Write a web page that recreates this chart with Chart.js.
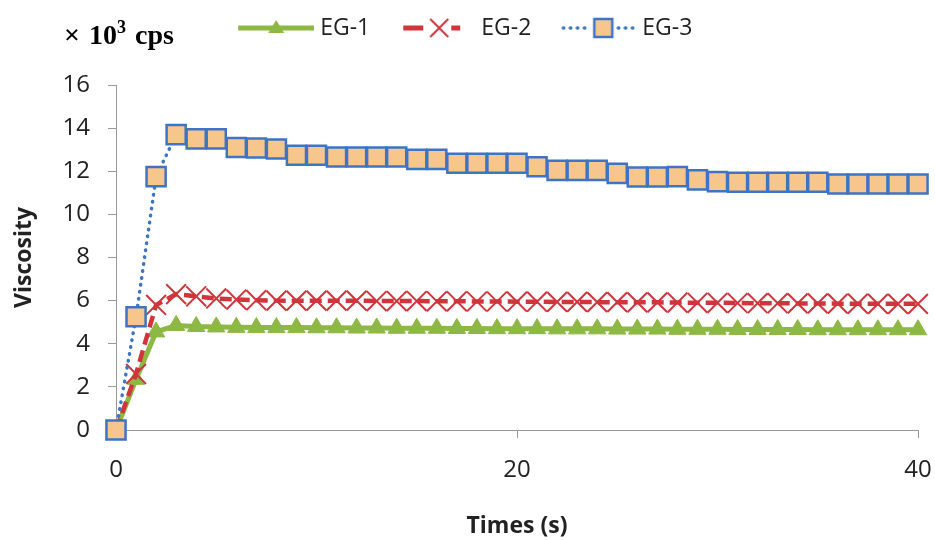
<!DOCTYPE html>
<html>
<head>
    <meta charset="utf-8">
    <title>Viscosity vs time</title>
    <script src="https://cdn.jsdelivr.net/npm/chart.js"></script>
    <style>
        html, body {
            margin: 0;
            padding: 0;
            background: #fff;
        }
        #wrap {
            position: relative;
            width: 935px;
            height: 540px;
        }
        #unit {
            position: absolute;
            left: 64px;
            top: 21px;
            font-family: "Liberation Serif", "DejaVu Serif", serif;
            font-weight: bold;
            font-size: 28px;
            line-height: 28px;
            color: #000;
            white-space: nowrap;
            word-spacing: 2px;
        }
        #unit sup {
            font-size: 18px;
            position: relative;
            top: -11px;
            vertical-align: baseline;
            line-height: 0;
        }
    </style>
</head>
<body>
    <div id="wrap">
        <canvas id="viscChart" width="935" height="540"></canvas>
        <div id="unit">&times; 10<sup>3</sup> cps</div>
    </div>

    <script>
      // one reading per second
      const times = [0, 1, 2, 3, 4, 5, 6, 7, 8, 9, 10, 11, 12, 13, 14, 15, 16, 17, 18, 19, 20,
                     21, 22, 23, 24, 25, 26, 27, 28, 29, 30, 31, 32, 33, 34, 35, 36, 37, 38, 39, 40];

      const eg1 = [0, 2.35, 4.55, 4.85, 4.8, 4.78, 4.76, 4.75, 4.75, 4.75, 4.74, 4.74, 4.73, 4.73, 4.72, 4.72,
                   4.72, 4.71, 4.71, 4.7, 4.7, 4.7, 4.69, 4.69, 4.69, 4.68, 4.68, 4.68, 4.67, 4.67, 4.67,
                   4.66, 4.66, 4.66, 4.66, 4.65, 4.65, 4.65, 4.65, 4.65, 4.65];

      const eg2 = [0, 2.6, 5.8, 6.3, 6.2, 6.1, 6.05, 6.02, 6.0, 6.0, 6.0, 6.0, 6.0, 5.98, 5.98, 5.98,
                   5.97, 5.97, 5.96, 5.96, 5.95, 5.95, 5.94, 5.94, 5.93, 5.93, 5.92, 5.92, 5.91, 5.9, 5.9,
                   5.89, 5.88, 5.88, 5.87, 5.87, 5.86, 5.86, 5.85, 5.85, 5.85];

      const eg3 = [0, 5.25, 11.75, 13.7, 13.5, 13.5, 13.1, 13.08, 13.03, 12.74, 12.74, 12.66, 12.66, 12.66, 12.66, 12.55,
                   12.55, 12.37, 12.37, 12.37, 12.37, 12.21, 12.04, 12.04, 12.04, 11.9, 11.73, 11.73, 11.75, 11.6, 11.52,
                   11.49, 11.49, 11.49, 11.49, 11.49, 11.41, 11.41, 11.41, 11.41, 11.41];

      const yTicks = [0, 2, 4, 6, 8, 10, 12, 14, 16];
      const xTicks = [0, 20, 40];

      const green = '#8cb843';
      const red = '#d2343c';
      const blue = '#3d74c6';
      const sand = '#f6c68c';

      const sans = "'Open Sans', 'Noto Sans', sans-serif";
      const titleFont = { family: sans, size: 23, weight: 'bold' };

      // legend symbol = short line + marker, drawn in the right 76px of the image
      function legendIcon(kind) {
        const c = document.createElement('canvas');
        c.width = 94;
        c.height = 26;
        const g = c.getContext('2d');
        const s = 18, y = 13;
        if (kind === 'tri') {
          g.strokeStyle = green;
          g.lineWidth = 5;
          g.beginPath(); g.moveTo(s, y); g.lineTo(s + 76, y); g.stroke();
          g.fillStyle = green;
          g.beginPath(); g.moveTo(s + 38, y - 8); g.lineTo(s + 46, y + 5); g.lineTo(s + 30, y + 5); g.closePath(); g.fill();
        } else if (kind === 'cross') {
          g.strokeStyle = red;
          g.lineWidth = 5;
          g.beginPath();
          g.moveTo(s + 4, y); g.lineTo(s + 24, y);
          g.moveTo(s + 52, y); g.lineTo(s + 61, y);
          g.stroke();
          g.lineWidth = 2;
          g.beginPath();
          g.moveTo(s + 31, y - 9); g.lineTo(s + 49, y + 9);
          g.moveTo(s + 49, y - 9); g.lineTo(s + 31, y + 9);
          g.stroke();
        } else {
          g.strokeStyle = blue;
          g.lineWidth = 3.5;
          g.lineCap = 'round';
          g.setLineDash([0.5, 6.5]);
          g.beginPath(); g.moveTo(s + 3, y); g.lineTo(s + 30, y); g.moveTo(s + 58, y); g.lineTo(s + 74, y); g.stroke();
          g.setLineDash([]);
          g.fillStyle = sand;
          g.fillRect(s + 34, y - 9, 18, 18);
          g.lineWidth = 2.5;
          g.strokeRect(s + 34, y - 9, 18, 18);
        }
        return c;
      }

      const icons = [legendIcon('tri'), legendIcon('cross'), legendIcon('rect')];

      // keep the legend box 85px tall so the plot starts where the reference one does
      const legendSpace = {
        id: 'legendSpace',
        afterInit(chart) {
          const legend = chart.legend;
          const fit = legend.fit;
          legend.fit = function() {
            fit.call(this);
            this.height = 85;
          };
        }
      };

      function pts(vals) {
        return times.map((t, i) => ({ x: t, y: vals[i] }));
      }

      const ctx = document.getElementById('viscChart').getContext('2d');
      new Chart(ctx, {
        type: 'line',
        data: {
          datasets: [{
            label: 'EG-1',
            data: pts(eg1),
            borderColor: green,
            backgroundColor: green,
            borderWidth: 5,
            pointStyle: 'triangle',
            pointRadius: 10,
            pointBorderWidth: 1,
            pointBackgroundColor: green,
            pointBorderColor: green,
            clip: false,
            order: 3
          }, {
            label: 'EG-2',
            data: pts(eg2),
            borderColor: red,
            backgroundColor: red,
            borderWidth: 4.5,
            borderDash: [12, 6],
            pointStyle: 'crossRot',
            pointRadius: 14,
            pointBorderWidth: 2,
            pointBorderColor: red,
            clip: false,
            order: 2
          }, {
            label: 'EG-3',
            data: pts(eg3),
            borderColor: blue,
            backgroundColor: sand,
            borderWidth: 3.5,
            borderDash: [0.5, 6.5],
            borderCapStyle: 'round',
            pointStyle: 'rect',
            pointRadius: 13.5,
            pointBorderWidth: 2.5,
            pointBackgroundColor: sand,
            pointBorderColor: blue,
            clip: false,
            order: 1
          }]
        },
        options: {
          responsive: false,
          animation: false,
          layout: { padding: { top: 0, right: 17, bottom: 0, left: 0 } },
          plugins: {
            tooltip: { enabled: false },
            legend: {
              position: 'top',
              labels: {
                usePointStyle: true,
                pointStyleWidth: 83,
                padding: 16.5,
                color: '#222',
                font: { family: sans, size: 23 },
                sort: (a, b) => a.datasetIndex - b.datasetIndex,
                generateLabels: function(chart) {
                  return chart.data.datasets.map((ds, i) => ({
                    text: ds.label,
                    pointStyle: icons[i],
                    fillStyle: 'transparent',
                    strokeStyle: 'transparent',
                    lineWidth: 0,
                    fontColor: '#222',
                    hidden: false,
                    datasetIndex: i
                  }));
                }
              }
            }
          },
          scales: {
            x: {
              type: 'linear',
              min: 0,
              max: 40,
              afterBuildTicks: s => { s.ticks = xTicks.map(v => ({ value: v })); },
              afterFit: s => { s.height = 110; s.paddingLeft = 0; s.paddingRight = 0; },
              grid: { drawOnChartArea: false, tickLength: 8, color: '#999' },
              border: { color: '#999' },
              ticks: { color: '#222', font: { family: sans, size: 24 }, padding: 18, maxRotation: 0 },
              title: { display: true, text: 'Times (s)', color: '#222', font: titleFont, padding: { top: 0, bottom: 0 } }
            },
            y: {
              min: 0,
              max: 16,
              afterBuildTicks: s => { s.ticks = yTicks.map(v => ({ value: v })); },
              afterFit: s => { s.width = 116; },
              grid: { drawOnChartArea: false, tickLength: 8, color: '#999' },
              border: { color: '#999' },
              ticks: { color: '#222', font: { family: sans, size: 24 }, padding: 18 },
              title: { display: true, text: 'Viscosity', color: '#222', font: titleFont, padding: { top: 11, bottom: 0 } }
            }
          }
        },
        plugins: [legendSpace]
      });
    </script>
</body>
</html>
